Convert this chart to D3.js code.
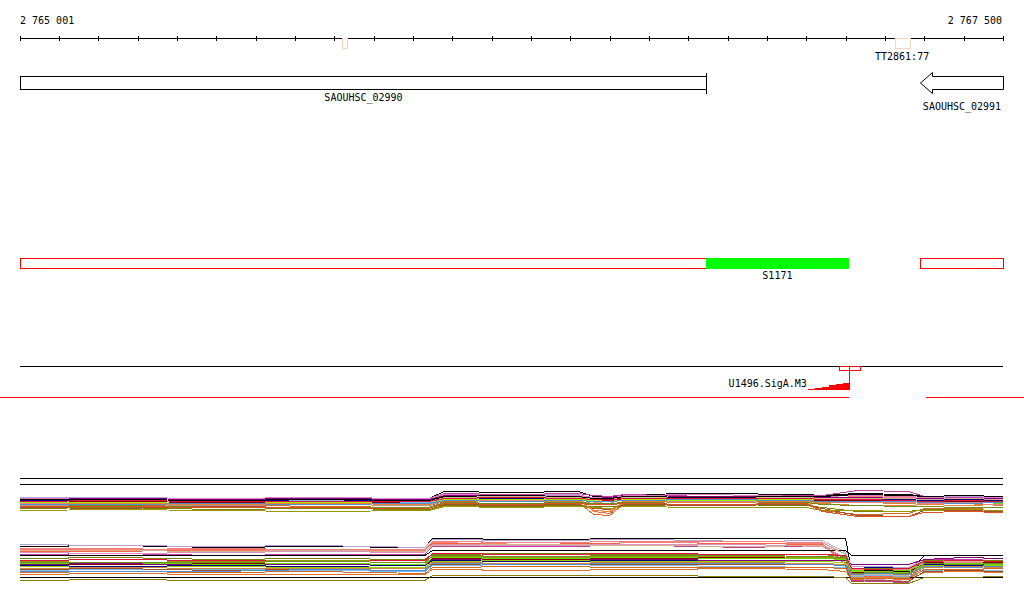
<!DOCTYPE html>
<html>
<head>
<meta charset="utf-8">
<style>
body { margin:0; background:#fff; }
text { font-family: "DejaVu Sans Mono", monospace; font-size:10px; fill:#000; }
</style>
</head>
<body>
<div id="browser"></div>
<script src="https://cdn.jsdelivr.net/npm/d3@7"></script>
<script>

// region shown
var regionStart = 2765001
var regionEnd = 2767500

// genes: start, end, strand, name
var genes = [
  {name:"SAOUHSC_02990", start:2765001, end:2766745, strand:"+"},
  {name:"SAOUHSC_02991", start:2767288, end:2767500, strand:"-"}
]
// small marks on the ruler (terminators)
var terms = [
  {name:"", start:2765820, end:2765833},
  {name:"TT2861:77", start:2767225, end:2767262}
]
// segments track
var segBoxes = [[2765001, 2766745], [2767288, 2767500]]
var segFilled = [2766745, 2767108]
var segName = "S1171"
// promoter
var promoterName = "U1496.SigA.M3"
var promoterBox = [2767083, 2767136]
var promoterPos = [2767004, 2767022, 2767040, 2767058, 2767076, 2767094, 2767108]
var promoterScore = [1, 2, 3, 4, 5, 6, 6]
// red divider, gap where no coverage
var dividerGap = [2767108, 2767304]

// expression profiles, top group
var g1x = [2765001, 2765250, 2765500, 2765750, 2766040, 2766080, 2766250, 2766420, 2766460, 2766500,
  2766540, 2766750, 2767000, 2767040, 2767130, 2767260, 2767300, 2767400, 2767500]
var g1colors = ["#000000","#c040a0","#b8a0d8","#fa8072","#ff6347","#d2691e","#808000","#66dd00","#7ab8f0","#800080",
  "#a0522d","#cd853f","#8b0000","#000080","#e080c0","#9a9a00","#f08030","#d2b48c","#6b8e23","#000000",
  "#f08080","#99ee00","#bc8f8f","#dc143c","#5090d0","#e05020"]
var g1values = [
  [7.7,7.3,7.5,7.8,7.5,9.7,9.3,9.7,8,7.7,8.7,9,8.7,8.3,9,8.7,8,7.7,7.3],
  [7,7.3,7,6.7,7.2,9,8.7,9,8.3,8,8.7,8,8.3,8.3,10,9.7,8,7.7,7.3],
  [7.8,7.7,7.3,7,7.3,8.7,8.3,8.7,7.3,7.3,8.3,8.7,8,8,8.7,8.3,7.7,8,7.7],
  [6.7,6.3,6.7,7,6.5,8,8.3,8,6,5.7,7.7,7.3,7.7,7.3,8,7.7,7.3,7.3,7],
  [6.3,6.7,6,6.3,6,7.7,7.3,7.3,3,2.3,7,7.3,7,6.7,6.7,6.7,6.3,6,6.7],
  [5,5,5.3,4.7,5,6.3,6.7,6,2,1.7,6,6.3,6,3.5,2,2.3,4,4,4.3],
  [4,4.3,3.7,4,3.7,5,4.7,5,4.7,4.7,5,5.3,5,4.3,3,3,3.7,3.7,3.3],
  [5.7,5.3,5.7,6,5.7,7,7.3,7,6.7,6.7,7,6.7,7,6.7,6.7,6.7,6,6.3,5.7],
  [6.3,6,6.3,6.7,6,7.3,7,7.3,7,6.7,7.3,7.7,7,7,7.3,7,6.3,6.7,6],
  [7.3,7.3,7,7.3,7,8.3,8,8.3,7.7,7.7,8.3,8,8,7.7,7.7,7.3,7.3,7,7.3],
  [4.3,4,4.7,4.3,4.3,5.3,5,5.3,4,3.7,5.3,5,5.3,4,1.7,1.3,3.3,3.3,3],
  [5.3,5.7,5,5.3,5,6.7,6.3,6.5,5.7,5.3,6.3,6.7,6.3,6,6,5.7,5.3,5.7,5],
  [6,6.3,6,5.7,6.2,7.3,7.7,7.3,7,7,7.3,7,7,6.7,6.7,6.3,6,6.3,6],
  [6.7,6.7,6.5,7,6.5,7.7,7.3,7.7,7.3,7.3,7.7,7.3,7.3,7.3,7.3,7,6.7,7,6.7],
  [7.3,7,7.3,7.7,7.3,8.7,8.3,8.3,7.7,7.3,8.3,8.7,8,8,8.3,8,7.7,7.3,7.7],
  [3.3,3.7,3.3,3,3.5,4.7,4.3,4.7,4.3,4,4.7,4.3,4.3,3.5,3.3,3,3.3,3.7,3.3],
  [5.7,5.7,5.3,5.7,5.3,6.7,6.3,6.7,3.5,3,6.3,6,6.3,5.7,5,5,5.3,5,5.3],
  [6.3,6,6.3,6.3,6.3,7.7,8,7.7,7.3,7.3,7.7,7.7,7.7,7.3,7.3,7.3,7,7.3,7],
  [4.7,5,4.5,4.3,4.5,6,5.7,6,5.7,5.7,6,6.3,6,5.3,5,4.7,4.7,4.3,4.3],
  [7,7,6.7,7,6.7,8,8.3,8,7.3,7.3,8,7.7,8,8,8.7,8.3,8,8.3,8],
  [5.7,6,5.7,5.3,5.7,7,6.7,7,6.3,6.3,7,7.3,6.7,6.3,6,6,5.7,5.7,5.3],
  [6,6,5.7,6,5.7,7,7,7,6.7,6.7,7,6.7,7,7,7,6.7,6.3,6.7,6.3],
  [5,4.7,5,5.3,5,6.7,6.3,6.7,6.3,6.3,6.7,6.3,6.7,6.3,6.3,6.3,6,6,6],
  [6.3,6.7,6.3,6.3,6.3,7.3,7.7,7.3,7,6.7,7.3,7.3,7.3,7,7,6.7,6.3,6.7,6.3],
  [5.3,5.3,5.7,5.3,5.7,6.7,6.3,6.7,6.3,6.3,6.7,7,6.7,6.3,6.3,6.3,6,5.7,6],
  [4.7,4.7,4.3,4.3,4,5.7,5.3,5.7,5.3,5.3,5.7,5.3,5.7,3,1.3,1.3,2.7,3,2.7]
]

// expression profiles, bottom group
var g2x = [2765001, 2765250, 2765500, 2765750, 2766030, 2766050, 2766300, 2766600, 2766850, 2767040,
  2767100, 2767115, 2767180, 2767260, 2767300, 2767400, 2767500]
var g2colors = ["#000000","#b8a0d8","#fa8072","#ff6347","#c040a0","#e090c0","#000000","#808000","#9a9a00","#8b0000",
  "#800080","#000080","#66dd00","#99cc00","#7ab8f0","#d2691e","#e07028","#000000","#8b7d00","#a0522d",
  "#f08080","#d2b48c","#cd853f","#5090d0","#dc143c","#6b8e23"]
var g2values = [
  [7.2,7.4,7,7.2,7,8.8,8.6,8.8,8.8,8.8,8.8,2.2,2.4,2.2,5.4,5.4,5.4],
  [7.6,7.4,7.2,7.4,7,8.6,8.4,8.6,8.2,8.4,6,3.2,3.2,3,4.6,4.6,4.8],
  [6.6,6.8,6.4,6.2,6.4,8,7.6,8,7.8,7.8,4,1.8,1.6,1.4,4,4.4,4.2],
  [6.2,6.2,6.6,6.4,6.6,7.8,8,7.6,7.8,7.6,3.6,1.2,1.2,1,3.6,3.8,3.6],
  [5.6,5.8,5.4,5.6,5.6,7.2,7.2,7.4,7,7.4,4.6,0.4,0.2,0,4.6,4.6,4.8],
  [6,5.8,6,6.2,6,7.6,7.4,7.6,7.6,7.2,5,0.8,0.6,0.2,4.4,4.2,4.4],
  [5.4,5.4,5.4,5.4,5.4,6.4,6.4,6.4,6.4,6.4,6.4,5.4,5.4,5.4,5.4,5.4,5.4],
  [4.8,5,4.6,4.8,4.6,5.6,5.8,5.6,5.4,5.6,5.2,2.6,2.8,2.6,4.4,4.2,4.4],
  [4.2,4,4.2,4.4,4.4,5.2,5,5.2,5.2,5,4.8,1.6,1.4,1.6,3.6,3.8,3.8],
  [3.8,3.6,3.8,3.6,3.6,4.8,4.6,4.8,5,4.8,4.6,2,2.2,2,4,4,4],
  [3.6,3.8,3.4,3.6,3.4,4.6,4.8,4.6,4.4,4.4,4.4,3.6,3.6,3.6,4.6,5,4.8],
  [3.4,3.2,3.4,3.2,3.4,4.4,4.2,4.4,4.2,4.2,4,2.8,3,2.8,3.6,3.4,3.6],
  [3.8,4,3.6,3.8,3.6,5,4.8,5,4.8,4.8,4.6,2.4,2.2,2.4,3.8,3.8,3.6],
  [3.2,3,3.2,3,3,4.2,4.4,4.2,4.2,4.2,4,2.2,2.2,2,3.4,3.2,3.4],
  [2.4,2.6,2.6,2.4,2.2,3.4,3.2,3.4,3.2,3,3,1.2,1.4,1.2,2.4,2.6,2.4],
  [2,1.8,2,2.2,1.8,3,3.2,3,3,3,2.8,0.8,0.8,0.8,2.6,2.6,2.8],
  [1.6,1.8,1.6,1.6,1.6,2.6,2.4,2.6,2.8,2.6,2.2,0.6,0.4,0.6,2,2.2,2],
  [1,1,1,1,1,1,1,1,1,1,1,1,1,1,1,1,1],
  [0.4,0.6,0.4,0.4,0.4,1.4,1.4,1.4,1.2,1.2,1,-0.2,-0.2,-0.2,1,1,1.2],
  [2.6,2.8,2.4,2.6,2.4,3.6,3.8,3.6,3.6,3.6,3.4,0.2,0.4,0.2,2.2,2.4,2.2],
  [6.8,6.6,6.8,6.6,6.6,8.2,8,8.2,8.2,8,5.6,2.6,2.6,2.6,4.2,4,4.2],
  [6.4,6.4,6.2,6.4,6.2,7.4,7.6,7.4,7.2,7.4,5.8,1.4,1.6,1.4,4.2,4.2,4.2],
  [2.8,3,2.8,2.8,2.8,4,3.8,4,4,3.8,3.6,1,1,1,3,3.2,3],
  [2.2,2.2,2.2,2.6,2.4,3.8,3.6,3.8,3.8,3.6,3.4,1.6,1.8,1.6,3.2,3,3.2],
  [4.4,4.6,4.4,4.2,4.4,5.8,5.6,5.8,5.6,5.6,5.4,2.8,2.6,2.8,4.2,4.4,4.2],
  [4,4,4,4.2,4,5.4,5.2,5.4,5.4,5.2,5,1.8,2,1.8,3.8,3.6,3.8]
]

var width = 1024, height = 611

var svg = d3.select("#browser").append("svg")
    .attr("width", width)
    .attr("height", height)
    .attr("shape-rendering", "crispEdges")

var x = d3.scaleLinear().domain([regionStart, regionEnd]).range([20, 1003])
var fmt = d3.formatLocale({decimal:".", thousands:" ", grouping:[3], currency:["",""]}).format(",d")

// ---- ruler
var ruler = svg.append("g")
ruler.append("line").attr("x1", x(regionStart)).attr("x2", x(regionEnd))
    .attr("y1", 38.5).attr("y2", 38.5).attr("stroke", "#000")
var tickPos = d3.range(0, 26).map(i => regionStart - 1 + i * 100)
tickPos[0] = regionStart
ruler.selectAll(".tick").data(tickPos).enter().append("line")
    .attr("x1", d => Math.round(x(d)) + 0.5).attr("x2", d => Math.round(x(d)) + 0.5)
    .attr("y1", 36).attr("y2", 41).attr("stroke", "#000")
ruler.append("text").attr("x", x(regionStart)).attr("y", 24).text(fmt(regionStart))
ruler.append("text").attr("x", x(regionEnd) - 1).attr("y", 24)
    .attr("text-anchor", "end").text(fmt(regionEnd))

ruler.selectAll(".term").data(terms).enter().append("rect")
    .attr("x", d => Math.round(x(d.start)) + 0.5).attr("y", 38.5)
    .attr("width", d => Math.round(x(d.end) - x(d.start))).attr("height", 10)
    .attr("fill", "none").attr("stroke", "#fcd2c4")
ruler.selectAll(".termlab").data(terms).enter().append("text")
    .attr("x", d => x((d.start + d.end) / 2)).attr("y", 60)
    .attr("text-anchor", "middle").text(d => d.name)

// ---- genes
var gy = 76.5, gh = 13
genes.forEach(function(g, i){
  var x0 = Math.round(x(g.start)) + 0.5, x1 = Math.round(x(g.end)) + 0.5
  if (g.strand == "+") {
    svg.append("rect").attr("x", x0).attr("y", gy).attr("width", x1 - x0).attr("height", gh)
        .attr("fill", "none").attr("stroke", "#000")
    svg.append("line").attr("x1", x1).attr("x2", x1).attr("y1", gy - 4).attr("y2", gy + gh + 4)
        .attr("stroke", "#000")
  } else {
    var hb = x0 + 12
    var p = [[x1, gy], [hb, gy], [hb, gy - 4], [x0, gy + gh / 2], [hb, gy + gh + 4], [hb, gy + gh], [x1, gy + gh]]
    svg.append("path").attr("d", d3.line()(p) + "Z")
        .attr("fill", "none").attr("stroke", "#000").attr("shape-rendering", "auto")
  }
  svg.append("text").attr("x", (x0 + x1) / 2).attr("y", 101 + i * 9)
      .attr("text-anchor", "middle").text(g.name)
})

// ---- segments
svg.selectAll(".seg").data(segBoxes).enter().append("rect")
    .attr("x", d => Math.round(x(d[0])) + 0.5).attr("y", 258.5)
    .attr("width", d => Math.round(x(d[1]) - x(d[0]))).attr("height", 10)
    .attr("fill", "none").attr("stroke", "#ff0000")
svg.append("rect").attr("x", x(segFilled[0])).attr("y", 258)
    .attr("width", x(segFilled[1]) - x(segFilled[0])).attr("height", 11)
    .attr("fill", "#00ff00")
svg.append("text").attr("x", x((segFilled[0] + segFilled[1]) / 2)).attr("y", 279)
    .attr("text-anchor", "middle").text(segName)

// ---- promoter track
svg.append("line").attr("x1", x(regionStart)).attr("x2", x(regionEnd))
    .attr("y1", 366.5).attr("y2", 366.5).attr("stroke", "#000")
svg.append("rect").attr("x", Math.round(x(promoterBox[0])) + 0.5).attr("y", 366.5)
    .attr("width", Math.round(x(promoterBox[1]) - x(promoterBox[0]))).attr("height", 4)
    .attr("fill", "none").attr("stroke", "#ff0000")
var tss = Math.round(x(promoterPos[promoterPos.length - 1])) + 0.5
svg.append("line").attr("x1", tss).attr("x2", tss).attr("y1", 366).attr("y2", 390)
    .attr("stroke", "#ff0000")
var yS = d3.scaleLinear().domain([0, 6]).range([390, 383])
svg.append("path")
    .datum(promoterScore)
    .attr("d", d3.area().curve(d3.curveStepAfter)
        .x((d, i) => x(promoterPos[i])).y0(390).y1(d => yS(d)))
    .attr("fill", "#ff0000")
svg.append("text").attr("x", x(promoterPos[0]) - 1).attr("y", 387)
    .attr("text-anchor", "end").text(promoterName)

// red divider
svg.append("line").attr("x1", 0).attr("x2", x(dividerGap[0]))
    .attr("y1", 397.5).attr("y2", 397.5).attr("stroke", "#ff0000")
svg.append("line").attr("x1", x(dividerGap[1])).attr("x2", width)
    .attr("y1", 397.5).attr("y2", 397.5).attr("stroke", "#ff0000")

// ---- expression panel
svg.append("line").attr("x1", x(regionStart)).attr("x2", x(regionEnd))
    .attr("y1", 478.5).attr("y2", 478.5).attr("stroke", "#000")
svg.append("line").attr("x1", x(regionStart)).attr("x2", x(regionEnd))
    .attr("y1", 484.5).attr("y2", 484.5).attr("stroke", "#000")

var y1 = d3.scaleLinear().domain([0, 10]).range([520, 490])
var y2 = d3.scaleLinear().domain([0, 10]).range([582, 532])

function drawGroup(xs, vals, cols, ys){
  var line = d3.line().x((d, i) => x(xs[i])).y(d => Math.round(ys(d)) + 0.5)
  svg.append("g").selectAll("path").data(vals).enter().append("path")
      .attr("d", line)
      .attr("fill", "none")
      .attr("stroke", (d, i) => cols[i])
      .attr("stroke-width", 1)
}
drawGroup(g1x, g1values, g1colors, y1)
drawGroup(g2x, g2values, g2colors, y2)

</script>
</body>
</html>
